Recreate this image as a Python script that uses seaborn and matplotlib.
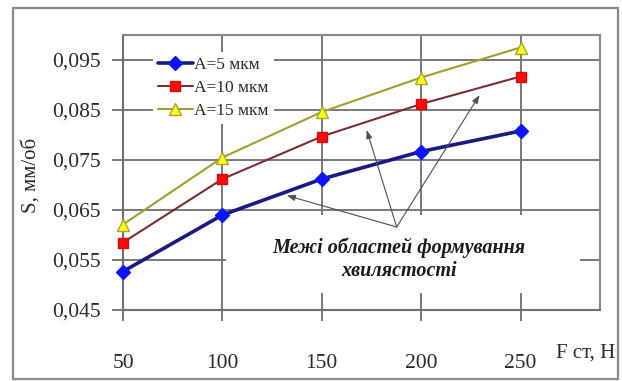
import matplotlib
matplotlib.use("Agg")
import matplotlib.pyplot as plt
from matplotlib.patches import Rectangle
import seaborn as sns
import pandas as pd

# Feed rate S (mm/rev) versus clamping force F (N) for three waviness amplitudes
force = [50, 100, 150, 200, 250]
s_a5 = [0.0527, 0.0640, 0.0712, 0.0767, 0.0808]
s_a10 = [0.0585, 0.0712, 0.0797, 0.0862, 0.0917]
s_a15 = [0.0621, 0.0755, 0.0846, 0.0915, 0.0975]
series_labels = ["А=5 мкм", "А=10 мкм", "А=15 мкм"]
y_ticks = [0.045, 0.055, 0.065, 0.075, 0.085, 0.095]
y_tick_labels = ["0,045", "0,055", "0,065", "0,075", "0,085", "0,095"]
x_ticks = [50, 100, 150, 200, 250]
note_text = "Межі областей формування\nхвилястості"

sns.set_style("white")
plt.rcParams["font.family"] = ["Liberation Serif", "DejaVu Serif"]

fig = plt.figure(figsize=(6.22, 3.81), dpi=100)
ax = fig.add_axes([123 / 622, 1 - 310 / 381, 477 / 622, 275 / 381])

# outer frame of the figure
fig.patches.append(Rectangle((13 / 622, 1 - 379 / 381), 605 / 622, 371 / 381,
                             transform=fig.transFigure, fill=False,
                             edgecolor="#8a8a8a", linewidth=1.6))

styles = [
    dict(color="#1a1a80", lw=2.6, marker="D", ms=7, mfc="#0a14ff", mec="#0a14ff"),
    dict(color="#7a3030", lw=1.5, marker="s", ms=7.5, mfc="#ff0a0a", mec="#cc1010"),
    dict(color="#a0a030", lw=1.5, marker="^", ms=8, mfc="#ffff20", mec="#a8a820"),
]
for vals, lab, st in zip([s_a5, s_a10, s_a15], series_labels, styles):
    df = pd.DataFrame({"F": force, "S": vals})
    sns.lineplot(data=df, x="F", y="S", ax=ax, color=st["color"], lw=st["lw"],
                 marker=st["marker"], markersize=st["ms"],
                 markerfacecolor=st["mfc"], markeredgecolor=st["mec"],
                 markeredgewidth=1, label=lab, zorder=4, clip_on=False)

ax.set_xlim(50, 290)
ax.set_ylim(0.045, 0.1)
ax.set_xticks(x_ticks)
ax.set_yticks(y_ticks)
ax.set_yticklabels(y_tick_labels)
ax.set_xlabel("")
ax.set_ylabel("S, мм/об", fontsize=15, color="#2a2a2a", va="center")
ax.yaxis.set_label_coords(-0.193, 0.49)

ax.grid(True, color="#707070", linewidth=1.3)
ax.set_axisbelow(True)
for sp in ax.spines.values():
    sp.set_visible(True)
    sp.set_color("#8a8a8a")
    sp.set_linewidth(1.5)
ax.spines["left"].set_color("#707070")
ax.spines["bottom"].set_color("#707070")
ax.tick_params(axis="both", which="major", labelsize=15.5, length=8, width=1.3,
               color="#707070", labelcolor="#2a2a2a")
ax.tick_params(axis="y", pad=8, left=True)
ax.tick_params(axis="x", pad=24, bottom=True)

ax.text(0.908, -0.155, "F ст, Н", transform=ax.transAxes, fontsize=15,
        color="#2a2a2a", ha="left", va="center", clip_on=False)

# white text box behind the annotation
ax.add_patch(Rectangle((0.216, 0.062), 0.742, 0.283, transform=ax.transAxes,
                       facecolor="white", edgecolor="none", zorder=1.5))

ax.text(189, 0.0551, note_text, fontsize=14.5, fontweight="bold", fontstyle="italic",
        ha="center", va="center", linespacing=1.2, color="#1a1a1a", zorder=5)

tail = (187.7, 0.0616)
for head in [(132.4, 0.0679), (172.6, 0.0810), (229.4, 0.0880)]:
    ax.annotate("", xy=head, xytext=tail,
                arrowprops=dict(arrowstyle="-|>,head_length=0.5,head_width=0.18",
                                color="#505050", lw=0.8, shrinkA=0, shrinkB=0),
                zorder=5)

leg = ax.legend(loc="upper left", bbox_to_anchor=(0.062, 0.94), fontsize=12.5,
                frameon=True, facecolor="white", edgecolor="none", framealpha=1,
                fancybox=False, borderpad=0.3, borderaxespad=0, handlelength=2.0,
                handletextpad=0.1, labelspacing=0.4)
for t in leg.get_texts():
    t.set_color("#2a2a2a")
leg.set_zorder(6)

fig.savefig("out.png", dpi=100)
